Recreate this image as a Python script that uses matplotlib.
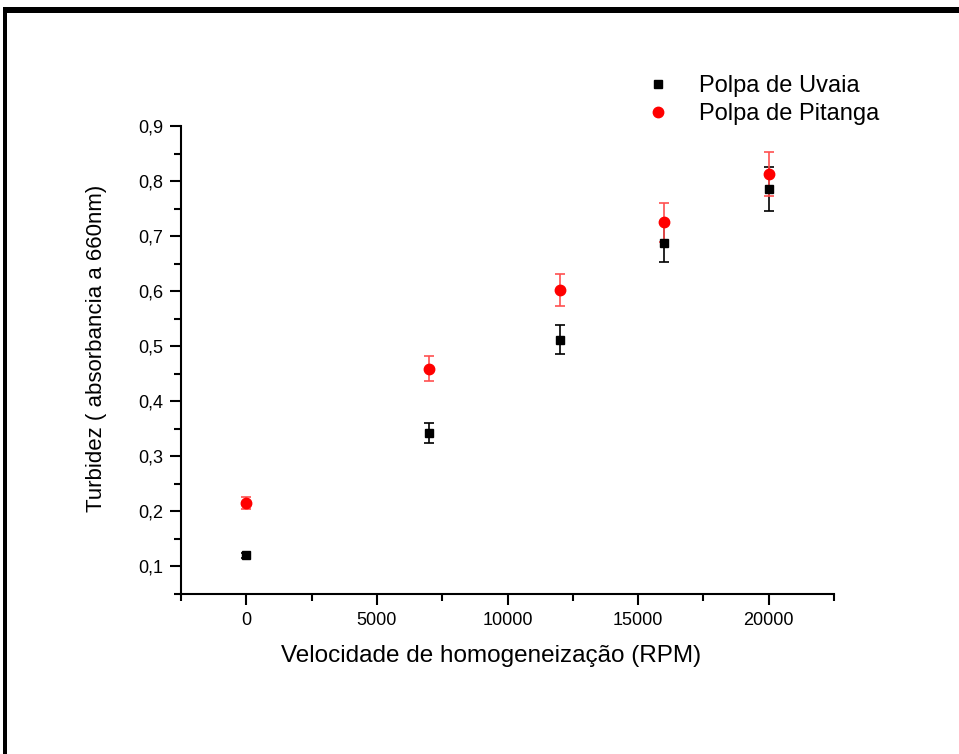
import matplotlib
matplotlib.use("Agg")
import matplotlib.pyplot as plt
from matplotlib.patches import Rectangle
from matplotlib.ticker import MultipleLocator, FuncFormatter

plt.rcParams['font.family'] = ['Liberation Sans', 'DejaVu Sans']

# data
rpm = [0, 7000, 12000, 16000, 20000]
uvaia = [0.120, 0.342, 0.512, 0.688, 0.785]
uvaia_err = [0.005, 0.018, 0.026, 0.035, 0.040]
pitanga = [0.216, 0.459, 0.602, 0.725, 0.812]
pitanga_err = [0.011, 0.023, 0.029, 0.036, 0.040]

W, H = 959, 754
fig = plt.figure(figsize=(W / 100, H / 100), dpi=100)
ax = fig.add_axes([181 / W, 1 - 594 / H, (834 - 181) / W, (594 - 126) / H])

ax.errorbar(rpm, uvaia, yerr=uvaia_err, fmt='s', color='black', ms=6,
            ecolor='black', elinewidth=1.2, capsize=3.6, capthick=1.2,
            label='Polpa de Uvaia')
ax.errorbar(rpm, pitanga, yerr=pitanga_err, fmt='o', color='#ff0000', ms=7.5,
            ecolor='#ff5050', elinewidth=1.2, capsize=3.6, capthick=1.2,
            label='Polpa de Pitanga')

ax.set_xlim(-2500, 22500)
ax.set_ylim(0.05, 0.9)
ax.xaxis.set_major_locator(MultipleLocator(5000))
ax.xaxis.set_minor_locator(MultipleLocator(2500))
ax.yaxis.set_major_locator(MultipleLocator(0.1))
ax.yaxis.set_minor_locator(MultipleLocator(0.05))
ax.yaxis.set_major_formatter(FuncFormatter(lambda v, p: f"{v:.1f}".replace('.', ',')))

for s in ['top', 'right']:
    ax.spines[s].set_visible(False)
for s in ['left', 'bottom']:
    ax.spines[s].set_linewidth(1.5)
ax.tick_params(which='major', direction='out', length=8, width=1.5, labelsize=13, pad=5)
ax.tick_params(which='minor', direction='out', length=5, width=1.5)

ax.set_xlabel('Velocidade de homogeneização (RPM)', fontsize=17.5)
ax.set_ylabel('Turbidez ( absorbancia a 660nm)', fontsize=16)
ax.xaxis.set_label_coords((491 - 181) / 653, (594 - 645) / 468)
ax.yaxis.set_label_coords((107 - 181) / 653, (594 - 348) / 468)

handles, labels = ax.get_legend_handles_labels()
handles = [h[0] for h in handles]
fig.legend(handles, labels, loc='upper left', bbox_to_anchor=(619 / W, 1 - 54 / H),
           frameon=False, fontsize=17, handletextpad=1.0, labelspacing=0.25,
           handlelength=1.5)

# outer frame (top and left edges only)
fig.add_artist(Rectangle((3 / W, 0), 4 / W, 1 - 7 / H, transform=fig.transFigure,
                         color='black', lw=0))
fig.add_artist(Rectangle((3 / W, 1 - 13 / H), 1, 6 / H, transform=fig.transFigure,
                         color='black', lw=0))

fig.savefig('out.png', dpi=100)
